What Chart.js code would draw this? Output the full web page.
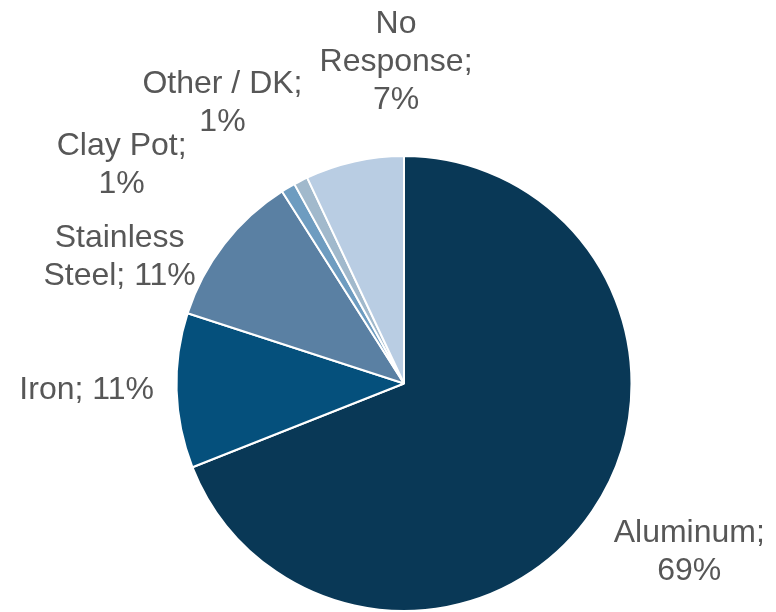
<!DOCTYPE html>
<html>
<head>
<meta charset="utf-8">
<title>Cookware material</title>
<script src="https://cdn.jsdelivr.net/npm/chart.js@4/dist/chart.umd.min.js"></script>
<style>
  html, body { margin: 0; padding: 0; background: #ffffff; }
  #wrap { width: 776px; height: 612px; }
</style>
</head>
<body>
<div id="wrap"><canvas id="chart" width="776" height="612"></canvas></div>
<script>
// Share of households by main cooking pot material (%)
const categories = ["Aluminum", "Iron", "Stainless Steel", "Clay Pot", "Other / DK", "No Response"];
const shares = [69, 11, 11, 1, 1, 7];
const sliceColors = ["#093856", "#05507c", "#5a80a3", "#6e9cc0", "#a1b9cc", "#b9cde3"];

// Label text split into lines (category; value%)
const labelLines = [
  [categories[0] + ";", shares[0] + "%"],
  [categories[1] + "; " + shares[1] + "%"],
  ["Stainless", "Steel; " + shares[2] + "%"],
  [categories[3] + ";", shares[3] + "%"],
  [categories[4] + ";", shares[4] + "%"],
  ["No", "Response;", shares[5] + "%"]
];

// Where each label sits, in multiples of the pie radius from its centre
// (x = centre of text block, y = baseline of first line)
const labelAnchors = [
  [1.254, 0.697],
  [-1.395, 0.070],
  [-1.250, -0.601],
  [-1.241, -1.004],
  [-0.798, -1.276],
  [-0.035, -1.539]
];

const outsideLabels = {
  id: "outsideLabels",
  afterDatasetsDraw(chart) {
    const ctx = chart.ctx;
    const meta = chart.getDatasetMeta(0);
    ctx.save();
    ctx.font = "32px 'Liberation Sans', Arial, sans-serif";
    ctx.fillStyle = "#575757";
    ctx.textAlign = "center";
    ctx.textBaseline = "alphabetic";
    meta.data.forEach((arc, i) => {
      const r = arc.outerRadius;
      const x = arc.x + labelAnchors[i][0] * r;
      let y = arc.y + labelAnchors[i][1] * r;
      labelLines[i].forEach(line => {
        ctx.fillText(line, x, y);
        y += 38;
      });
    });
    ctx.restore();
  }
};

new Chart(document.getElementById("chart"), {
  type: "pie",
  data: {
    labels: categories,
    datasets: [{
      data: shares,
      backgroundColor: sliceColors,
      borderColor: "#ffffff",
      borderWidth: 2
    }]
  },
  options: {
    responsive: false,
    animation: false,
    layout: { padding: { top: 155, bottom: -1, left: 175, right: 143 } },
    plugins: {
      legend: { display: false },
      tooltip: { enabled: false }
    }
  },
  plugins: [outsideLabels]
});
</script>
</body>
</html>
